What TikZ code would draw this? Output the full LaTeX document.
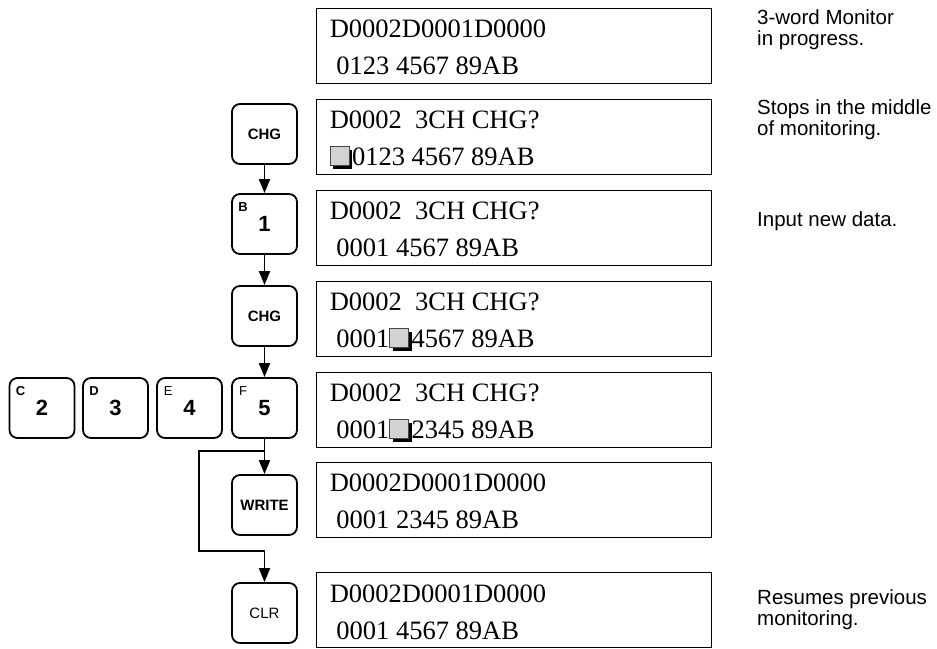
\documentclass[tikz,border=0pt]{standalone}
\usepackage{fontspec}
\setmainfont{Liberation Serif}
\setsansfont{Liberation Sans}
\usetikzlibrary{arrows.meta,positioning}

\tikzset{
  lcd/.style={draw,line width=0.9pt,minimum width=395pt,minimum height=75pt,inner sep=0pt},
  lcdtxt/.style={anchor=base west,inner sep=0pt,font=\fontsize{26.5}{30}\selectfont},
  key/.style={draw,line width=1.8pt,rounded corners=8pt,minimum width=65pt,minimum height=60pt,
    inner sep=0pt,font=\sffamily\bfseries\fontsize{15}{17}\selectfont},
  numkey/.style={key,font=\sffamily\bfseries\fontsize{22}{24}\selectfont},
  keytag/.style={inner sep=0pt,font=\sffamily\bfseries\fontsize{13}{14}\selectfont},
  note/.style={anchor=base west,inner sep=0pt,align=left,font=\sffamily\fontsize{20.5}{21}\selectfont},
  flow/.style={line width=1.8pt,-{Triangle[length=14pt,width=11pt]}}
}
% blinking cursor of the display
\newcommand{\cursorblk}{\tikz[baseline=0pt,x=1pt,y=1pt]{%
  \fill (5,-3) rectangle (24,16);
  \filldraw[fill=gray!35,draw=gray!55!black,line width=0.5pt] (2,0) rectangle (21,19);}}

\begin{document}
\begin{tikzpicture}[x=1pt,y=-1pt,line cap=butt,line join=miter]
  \useasboundingbox (0,0) rectangle (937,648);
  % displays
  \node[lcd] (d1) at (513.5,45.5) {};
  \node[lcd] (d2) at (513.5,136.5) {};
  \node[lcd] (d3) at (513.5,227.5) {};
  \node[lcd] (d4) at (513.5,318.5) {};
  \node[lcd] (d5) at (513.5,409.5) {};
  \node[lcd] (d6) at (513.5,499.5) {};
  \node[lcd] (d7) at (513.5,610) {};
  \node[lcdtxt] (d1a) at ([shift={(14,30)}]d1.north west) {D0002D0001D0000};
  \node[lcdtxt] (d1b) at ([shift={(14,67)}]d1.north west) {\ 0123 4567 89AB};
  \node[lcdtxt] (d2a) at ([shift={(14,30)}]d2.north west) {D0002\ \ 3CH CHG?};
  \node[lcdtxt] (d2b) at ([shift={(14,67)}]d2.north west) {\cursorblk0123 4567 89AB};
  \node[lcdtxt] (d3a) at ([shift={(14,30)}]d3.north west) {D0002\ \ 3CH CHG?};
  \node[lcdtxt] (d3b) at ([shift={(14,67)}]d3.north west) {\ 0001 4567 89AB};
  \node[lcdtxt] (d4a) at ([shift={(14,30)}]d4.north west) {D0002\ \ 3CH CHG?};
  \node[lcdtxt] (d4b) at ([shift={(14,67)}]d4.north west) {\ 0001\cursorblk4567 89AB};
  \node[lcdtxt] (d5a) at ([shift={(14,30)}]d5.north west) {D0002\ \ 3CH CHG?};
  \node[lcdtxt] (d5b) at ([shift={(14,67)}]d5.north west) {\ 0001\cursorblk2345 89AB};
  \node[lcdtxt] (d6a) at ([shift={(14,30)}]d6.north west) {D0002D0001D0000};
  \node[lcdtxt] (d6b) at ([shift={(14,67)}]d6.north west) {\ 0001 2345 89AB};
  \node[lcdtxt] (d7a) at ([shift={(14,30)}]d7.north west) {D0002D0001D0000};
  \node[lcdtxt] (d7b) at ([shift={(14,67)}]d7.north west) {\ 0001 4567 89AB};
  % keys
  \node[key] (chg1) at (264.5,134) {CHG};
  \node[numkey] (one) at (264.5,224) {1};
  \node[key] (chg2) at (264.5,316) {CHG};
  \node[numkey] (five) at (264.5,408) {5};
  \node[numkey] (four) at (189.5,408) {4};
  \node[numkey] (three) at (115.5,408) {3};
  \node[numkey] (two) at (42,408) {2};
  \node[key] (write) at (264.5,505) {WRITE};
  \node[key,font=\sffamily\fontsize{15}{17}\selectfont] (clr) at (264.5,613) {CLR};
  \node[keytag] (tb) at ([shift={(12,14)}]one.north west) {B};
  \node[keytag] (tc) at ([shift={(12,14)}]two.north west) {C};
  \node[keytag] (td) at ([shift={(12,14)}]three.north west) {D};
  \node[keytag,font=\sffamily\fontsize{13}{14}\selectfont] (te) at ([shift={(12,14)}]four.north west) {E};
  \node[keytag,font=\sffamily\fontsize{13}{14}\selectfont] (tf) at ([shift={(12,14)}]five.north west) {F};
  % flow
  \draw[flow] (chg1) -- (one);
  \draw[flow] (one) -- (chg2);
  \draw[flow] (chg2) -- (five);
  \draw[flow] (five) -- (write);
  \coordinate (split) at (264.5,451);
  \coordinate (turn) at (199,551);
  \draw[flow] (split) -| (turn) -| (clr);
  % notes
  \node[note] (n1) at (757,45) {3-word Monitor\\in progress.};
  \node[note] (n2) at (757,135) {Stops in the middle\\of monitoring.};
  \node[note] (n3) at (757,226) {Input new data.};
  \node[note] (n4) at (757,625) {Resumes previous\\monitoring.};
\end{tikzpicture}
\end{document}
